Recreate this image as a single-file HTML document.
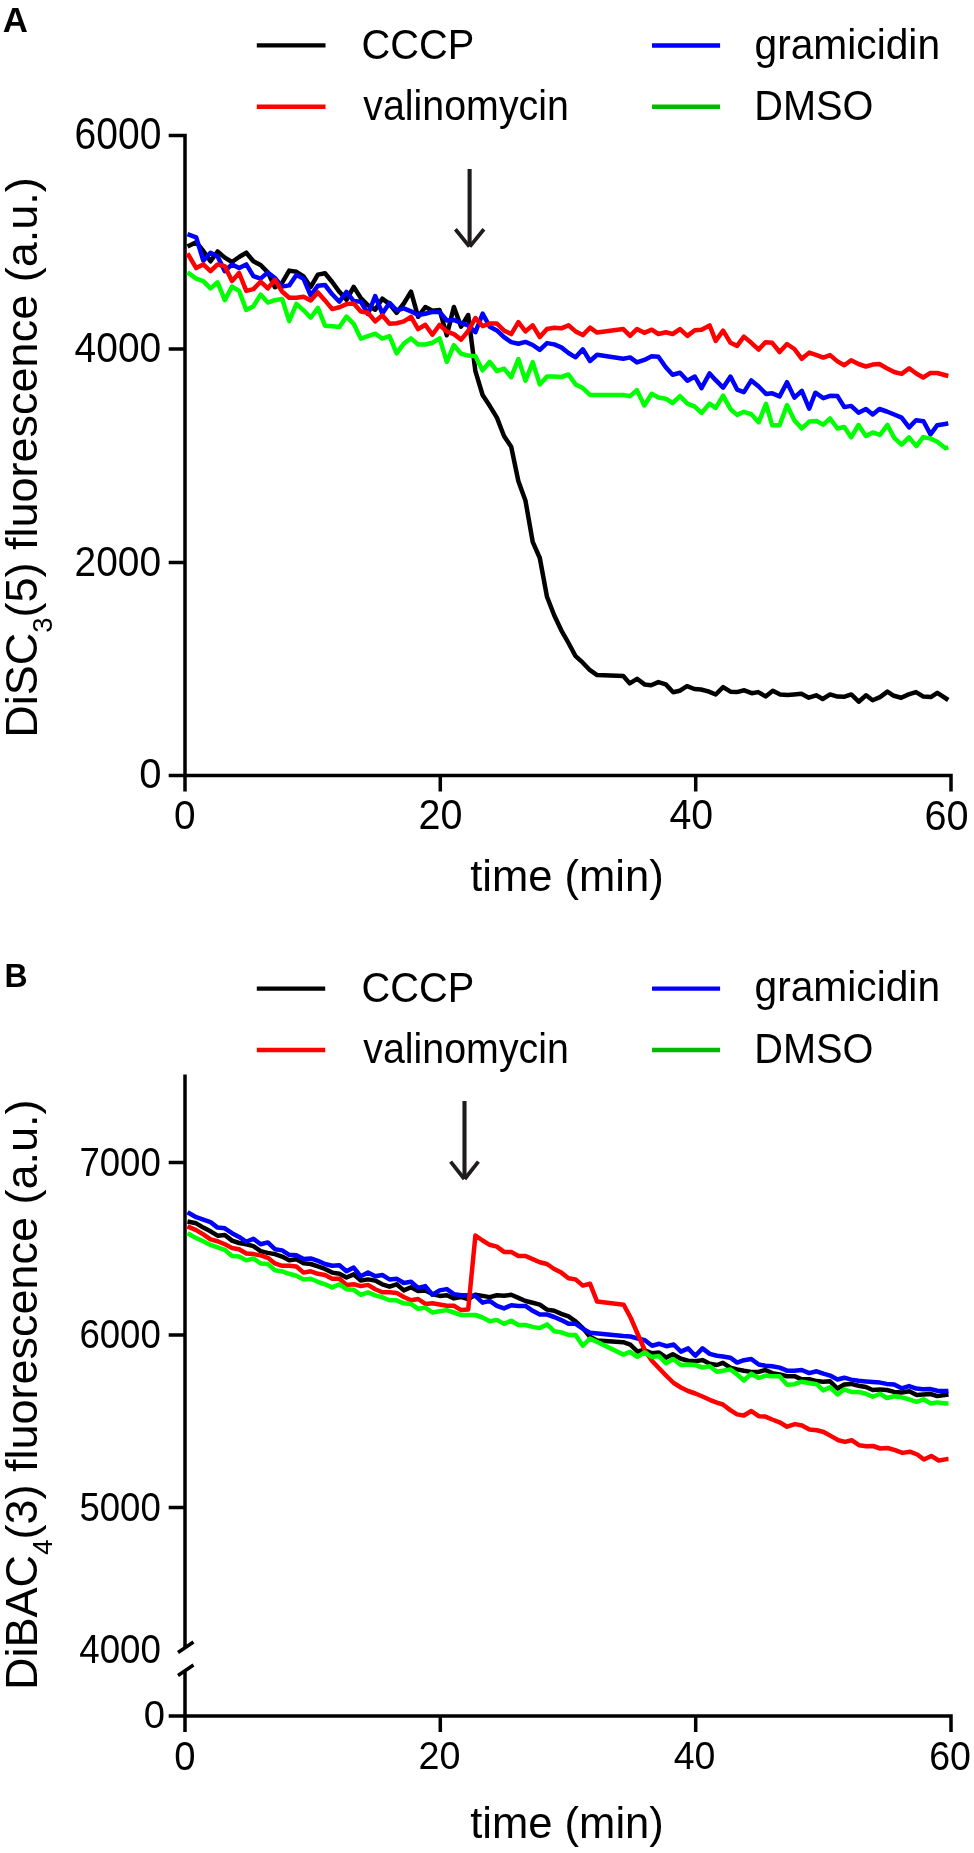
<!DOCTYPE html>
<html><head><meta charset="utf-8">
<style>
html,body{margin:0;padding:0;background:#fff;overflow:hidden;}
svg{display:block;will-change:transform;}
text{font-family:"Liberation Sans",sans-serif;fill:#000;}
</style></head>
<body>
<svg width="974" height="1853" viewBox="0 0 974 1853">

<text transform="matrix(0.9957 0 0 0.9792 2.80 31.60)" font-size="35" font-weight="bold">A</text>
<text transform="matrix(0.9254 0 0 0.975 361.55 59.20)" font-size="43" font-weight="normal">CCCP</text>
<text transform="matrix(0.9153 0 0 0.975 363.30 120.10)" font-size="43" font-weight="normal">valinomycin</text>
<text transform="matrix(0.9471 0 0 0.975 754.51 58.80)" font-size="43" font-weight="normal">gramicidin</text>
<text transform="matrix(0.9236 0 0 0.975 754.31 120.00)" font-size="43" font-weight="normal">DMSO</text>
<text transform="matrix(0.9076 0 0 1.0172 74.58 149.10)" font-size="43" font-weight="normal">6000</text>
<text transform="matrix(0.9054 0 0 1.0069 74.59 362.20)" font-size="43" font-weight="normal">4000</text>
<text transform="matrix(0.9043 0 0 0.9897 74.59 575.50)" font-size="43" font-weight="normal">2000</text>
<text transform="matrix(0.93 0 0 0.9931 139.34 788.40)" font-size="43" font-weight="normal">0</text>
<text transform="matrix(0.9 0 0 0.9483 174.00 829.40)" font-size="43" font-weight="normal">0</text>
<text transform="matrix(0.9182 0 0 0.9828 418.46 829.10)" font-size="43" font-weight="normal">20</text>
<text transform="matrix(0.9133 0 0 0.9828 669.39 829.10)" font-size="43" font-weight="normal">40</text>
<text transform="matrix(0.9227 0 0 0.9931 924.55 829.50)" font-size="43" font-weight="normal">60</text>
<text transform="matrix(0.9901 0 0 1.0268 470.21 890.86)" font-size="44" font-weight="normal">time (min)</text>
<text transform="matrix(0.9254 0 0 0.975 361.55 1001.70)" font-size="43" font-weight="normal">CCCP</text>
<text transform="matrix(0.9153 0 0 0.975 363.30 1062.60)" font-size="43" font-weight="normal">valinomycin</text>
<text transform="matrix(0.9471 0 0 0.975 754.51 1001.30)" font-size="43" font-weight="normal">gramicidin</text>
<text transform="matrix(0.9236 0 0 0.975 754.31 1062.50)" font-size="43" font-weight="normal">DMSO</text>
<text transform="matrix(0.9136 0 0 0.9667 4.47 986.70)" font-size="35" font-weight="bold">B</text>
<text transform="matrix(0.892 0 0 0.9786 79.42 1175.50)" font-size="41" font-weight="normal">7000</text>
<text transform="matrix(0.892 0 0 0.975 79.42 1347.70)" font-size="41" font-weight="normal">6000</text>
<text transform="matrix(0.892 0 0 0.9786 79.42 1520.50)" font-size="41" font-weight="normal">5000</text>
<text transform="matrix(0.8955 0 0 0.9893 79.30 1662.50)" font-size="41" font-weight="normal">4000</text>
<text transform="matrix(0.9316 0 0 0.9607 143.64 1728.40)" font-size="41" font-weight="normal">0</text>
<text transform="matrix(0.9316 0 0 0.9714 174.24 1769.70)" font-size="41" font-weight="normal">0</text>
<text transform="matrix(0.919 0 0 0.9607 418.46 1769.40)" font-size="41" font-weight="normal">20</text>
<text transform="matrix(0.914 0 0 0.9643 673.69 1769.40)" font-size="41" font-weight="normal">40</text>
<text transform="matrix(0.9143 0 0 0.9714 929.17 1769.60)" font-size="41" font-weight="normal">60</text>
<text transform="matrix(0.9901 0 0 1.0171 470.21 1838.25)" font-size="44" font-weight="normal">time (min)</text>
<text transform="translate(37.3,737.8) rotate(-90)" font-size="45">DiSC<tspan font-size="27.5" dy="15">3</tspan><tspan dy="-15">(5) fluorescence (a.u.)</tspan></text>
<text transform="translate(37.3,1689.9) rotate(-90)" font-size="45">DiBAC<tspan font-size="27.5" dy="15">4</tspan><tspan dy="-15">(3) fluorescence (a.u.)</tspan></text>
<g stroke-width="4.4" fill="none" stroke-linecap="butt">
<path d="M256.8 45.4H325.5" stroke="#000"/>
<path d="M256.8 106.8H325.5" stroke="#f00"/>
<path d="M652 45.5H720.1" stroke="#00f"/>
<path d="M652 106.8H720.1" stroke="#00b900"/>
<path d="M256.8 988.6H325.2" stroke="#000"/>
<path d="M256.8 1050H325.2" stroke="#f00"/>
<path d="M652 988.6H720.1" stroke="#00f"/>
<path d="M652 1050H720.1" stroke="#00b900"/>
</g>
<g stroke="#000" stroke-width="3.5" fill="none" stroke-linecap="butt">
<path d="M168.7 135.5H185V775.5H951V791.5"/>
<path d="M168.7 349H185M168.7 562.4H185M168.7 775.5H185"/>
<path d="M185 775.5V791.5M440.3 775.5V791.5M695.7 775.5V791.5"/>
<path d="M185 1074.4V1647.5"/>
<path d="M185 1670V1716H951V1732"/>
<path d="M168.7 1162.4H185M168.7 1335H185M168.7 1507.4H185M168.7 1716H185"/>
<path d="M185 1716V1732M440.3 1716V1732M695.7 1716V1732"/>
<path d="M178 1652.5L193.5 1642M178 1675.5L193.5 1665"/>
</g>
<g stroke="#1f1c1d" fill="none" stroke-linecap="butt">
<path stroke-width="4.1" d="M469.6 169V244"/>
<path stroke-width="3.8" d="M455.4 229.3L469.4 246.6M483.9 229.3L469.8 246.6"/>
<path stroke-width="4.1" d="M464.5 1101V1177"/>
<path stroke-width="3.8" d="M450.6 1161.6L464.3 1179M478.4 1161.6L464.7 1179"/>
</g>

<g fill="none" stroke-width="4.5" stroke-linejoin="round" stroke-linecap="butt">
<path stroke="#000" d="M187.5 246.6 196.2 242.2 203.3 251.0 210.5 261.3 217.6 251.5 224.8 257.6 232.0 262.0 239.1 257.0 246.3 252.7 253.4 261.3 260.6 265.0 267.8 272.4 274.9 287.2 282.1 282.9 289.2 270.6 296.4 271.8 303.6 276.4 310.7 286.9 317.9 274.6 325.0 273.3 332.2 282.0 339.4 291.8 346.5 299.8 353.7 286.9 360.8 298.0 368.0 305.4 375.2 309.7 382.3 298.6 389.5 304.1 396.6 312.8 403.8 303.5 411.0 291.6 418.1 316.8 425.3 307.0 432.4 310.7 439.6 310.0 446.8 335.3 453.9 307.0 461.1 326.7 468.2 315.0 475.4 371.2 482.6 395.0 489.7 405.8 496.9 417.6 504.0 436.0 511.2 446.8 518.4 481.3 525.5 500.8 532.7 541.8 539.8 558.0 547.0 596.8 554.2 615.2 561.3 630.3 568.5 643.0 575.6 656.2 582.8 662.7 590.0 670.2 597.1 675.1 623.3 676.0 629.7 683.4 637.1 678.8 644.5 684.4 651.0 685.3 658.4 682.1 665.8 684.4 673.2 692.3 679.6 690.8 687.0 686.2 694.4 689.0 700.9 689.5 708.3 691.4 715.7 694.5 723.1 687.1 730.5 691.7 736.9 692.1 744.3 690.3 751.7 693.2 758.2 692.1 765.6 696.4 772.8 690.7 780.2 694.4 787.6 694.9 794.0 694.4 801.4 693.8 808.8 697.7 816.2 695.3 822.7 699.0 830.1 694.4 837.5 696.6 843.9 696.8 851.3 694.4 858.7 701.7 866.1 695.3 872.6 700.3 880.0 697.1 887.4 691.6 893.8 695.8 901.2 697.7 908.6 694.4 916.0 692.1 923.4 696.6 930.8 697.1 937.3 692.9 948.3 700.0"/>
<path stroke="#00f" d="M187.5 234.2 196.2 237.3 203.3 260.7 210.5 252.7 217.6 256.4 224.8 271.2 232.0 264.4 239.1 268.1 246.3 264.4 253.4 276.1 260.6 278.6 267.8 272.4 274.9 278.0 282.1 286.6 289.2 285.4 296.4 274.9 303.6 278.9 310.7 295.5 317.9 285.7 325.0 285.0 332.2 294.3 339.4 301.7 346.5 291.8 353.7 301.1 360.8 301.7 368.0 314.0 375.2 296.1 382.3 313.4 389.5 302.9 396.6 310.3 403.8 308.4 411.0 311.3 418.1 315.0 425.3 313.7 432.4 311.9 439.6 311.9 446.8 320.5 453.9 319.9 461.1 323.0 468.2 325.4 475.4 332.2 482.6 313.7 489.7 326.7 496.9 330.4 504.0 337.1 511.2 342.1 518.4 343.7 525.5 341.9 532.7 345.0 539.8 349.9 547.0 343.1 554.2 344.4 561.3 347.4 568.5 353.0 575.6 357.3 582.8 349.3 590.0 361.0 597.1 354.8 623.3 358.7 630.1 357.4 636.9 362.4 644.3 359.9 651.7 356.2 658.4 356.8 665.8 367.3 672.6 374.7 680.0 372.8 687.4 380.8 694.8 376.5 701.5 388.2 709.6 373.4 715.7 380.2 723.1 387.7 730.5 376.6 737.1 389.6 743.9 392.1 751.3 380.4 758.7 386.5 766.0 393.9 772.2 393.3 779.6 396.4 787.0 382.2 794.4 397.6 801.8 390.8 809.2 408.7 815.3 392.7 823.3 398.2 830.1 395.8 837.5 396.1 844.3 407.1 851.1 405.9 858.5 412.7 865.9 409.0 872.7 414.5 879.4 409.0 886.8 411.5 894.2 414.5 901.6 417.6 909.1 427.4 916.0 420.3 923.5 421.2 930.5 434.4 937.3 425.2 946.5 423.7 948.3 423.4"/>
<path stroke="#f00" d="M187.5 253.3 196.2 268.1 203.3 264.4 210.5 271.2 217.6 264.4 224.8 266.3 232.0 281.1 239.1 273.0 246.3 290.9 253.4 289.1 260.6 281.7 267.8 288.4 274.9 279.8 282.1 291.5 289.2 297.7 296.4 297.7 303.6 296.7 310.7 300.4 317.9 292.4 325.0 300.4 332.2 309.1 339.4 307.2 346.5 304.1 353.7 303.5 360.8 311.5 368.0 312.8 375.2 321.4 382.3 315.2 389.5 323.8 396.6 323.2 403.8 321.4 411.0 316.8 418.1 329.1 425.3 324.8 432.4 334.7 439.6 324.8 446.8 331.6 453.9 334.1 461.1 339.6 468.2 331.0 475.4 318.0 482.6 326.1 489.7 323.6 496.9 323.6 504.0 330.4 511.2 334.1 518.4 322.2 525.5 331.4 532.7 325.3 539.8 337.0 547.0 329.0 554.2 327.7 561.3 328.3 568.5 325.3 575.6 331.4 582.8 335.1 590.0 327.7 597.1 332.6 623.3 329.1 630.1 335.9 636.9 329.1 644.3 332.8 651.7 329.7 658.4 334.0 665.8 332.2 672.6 334.0 680.0 329.1 687.4 335.9 694.8 330.3 701.5 329.7 709.6 325.4 715.7 340.8 723.1 330.7 730.5 342.8 737.1 345.9 743.9 336.6 751.3 342.8 758.7 349.6 765.4 342.2 772.2 342.8 779.6 352.0 787.0 344.0 794.4 349.0 801.8 358.8 809.2 352.6 816.6 355.1 823.3 357.6 830.1 355.1 837.5 361.4 844.3 365.3 851.1 360.3 858.5 364.0 865.9 366.5 872.7 364.6 879.4 364.0 886.8 368.3 894.2 372.0 901.6 373.9 909.2 368.2 916.3 373.5 923.1 377.5 930.5 372.9 937.3 373.0 944.5 375.0 948.3 376.0"/>
<path stroke="#0f0" d="M187.5 272.4 196.2 278.6 203.3 281.1 210.5 288.4 217.6 282.3 224.8 300.2 232.0 286.6 239.1 290.9 246.3 310.0 253.4 306.3 260.6 294.6 267.8 302.6 274.9 300.2 282.1 298.9 289.2 321.1 296.4 303.8 303.6 310.3 310.7 317.7 317.9 307.8 325.0 325.7 332.2 326.3 339.4 326.9 346.5 316.5 353.7 323.8 360.8 338.6 368.0 336.2 375.2 333.7 382.3 338.6 389.5 336.2 396.6 353.4 403.8 343.6 411.0 338.4 418.1 344.5 425.3 344.5 432.4 342.7 439.6 338.4 446.8 361.8 453.9 345.2 461.1 353.8 468.2 355.6 475.4 356.2 482.6 370.4 489.7 361.8 496.9 371.0 504.0 368.6 511.2 377.2 518.4 359.1 525.5 380.7 532.7 362.2 539.8 384.4 547.0 376.4 554.2 376.4 561.3 377.0 568.5 374.5 575.6 384.4 582.8 388.1 590.0 394.9 597.1 394.9 623.3 395.0 630.1 396.2 636.9 390.1 644.3 405.5 651.7 393.8 658.4 397.5 665.8 398.7 672.6 403.0 680.0 396.2 687.4 403.6 694.8 406.7 701.5 412.9 709.6 403.6 715.7 407.9 723.1 395.7 730.5 409.2 737.1 414.9 743.9 411.8 751.3 414.2 758.7 422.3 766.0 403.8 772.2 425.3 779.6 425.3 787.0 405.0 794.4 420.4 801.8 428.4 809.2 421.6 816.6 421.0 823.3 424.7 830.1 418.5 837.5 428.5 844.3 426.9 851.1 437.3 858.5 425.0 865.9 436.1 872.7 432.4 880.0 434.9 887.4 425.0 894.2 437.9 901.6 444.7 909.0 437.4 916.4 446.1 923.2 437.1 930.6 438.6 937.3 441.7 945.5 448.2 948.3 447.4"/>
<path stroke="#000" d="M187.5 1221.5 196.2 1223.3 203.3 1227.6 210.5 1231.3 217.6 1235.7 224.8 1235.0 232.0 1240.6 239.1 1243.0 246.3 1244.3 253.4 1246.1 260.6 1251.1 267.8 1252.9 274.9 1254.1 282.1 1256.6 289.2 1260.3 296.4 1259.3 303.6 1263.3 310.7 1264.0 317.9 1266.4 325.0 1268.9 332.2 1272.6 339.4 1273.8 346.5 1277.5 353.7 1274.4 360.8 1280.6 368.0 1279.4 375.2 1280.6 382.3 1284.3 389.5 1286.7 396.6 1284.3 403.8 1290.4 411.0 1287.3 418.1 1291.0 425.3 1290.4 432.4 1294.1 439.6 1295.9 446.8 1295.3 453.9 1298.4 461.1 1297.1 468.2 1299.0 475.4 1294.7 482.6 1295.9 489.7 1297.1 496.9 1295.3 504.0 1295.7 511.2 1294.8 518.4 1297.9 525.5 1301.0 532.7 1302.8 539.8 1304.7 547.0 1309.6 554.2 1310.8 561.3 1313.9 568.5 1316.4 575.6 1321.3 582.8 1328.1 590.0 1336.8 597.1 1340.5 623.3 1342.2 630.3 1344.6 637.5 1351.5 644.0 1350.0 652.3 1353.3 659.0 1352.5 666.3 1357.6 672.8 1354.3 680.9 1358.8 688.1 1360.7 695.3 1361.3 702.5 1360.1 709.7 1363.8 716.9 1365.0 722.9 1362.8 730.3 1367.6 737.1 1369.4 743.9 1370.7 751.3 1371.9 758.7 1371.9 765.4 1370.0 772.2 1373.1 779.6 1374.4 787.0 1376.2 794.4 1376.2 801.8 1379.3 809.2 1379.3 816.6 1381.1 823.3 1381.7 830.1 1381.3 837.5 1388.5 844.3 1384.5 851.1 1383.9 858.5 1385.7 865.9 1387.0 872.7 1390.0 880.0 1389.4 886.8 1390.0 894.2 1391.9 901.6 1392.5 909.3 1391.2 916.7 1394.9 923.2 1394.4 930.5 1394.0 937.3 1396.1 948.5 1394.6"/>
<path stroke="#00f" d="M187.5 1212.2 196.2 1217.2 203.3 1219.6 210.5 1222.1 217.6 1227.6 224.8 1228.3 232.0 1233.2 239.1 1236.9 246.3 1241.8 253.4 1238.7 260.6 1244.3 267.8 1242.4 274.9 1249.2 282.1 1250.4 289.2 1254.8 296.4 1255.3 303.6 1259.0 310.7 1258.4 317.9 1260.9 325.0 1264.0 332.2 1265.8 339.4 1265.2 346.5 1271.3 353.7 1267.6 360.8 1276.3 368.0 1272.6 375.2 1276.3 382.3 1275.0 389.5 1279.4 396.6 1278.7 403.8 1283.0 411.0 1281.7 418.1 1287.9 425.3 1286.1 432.4 1294.7 439.6 1290.4 446.8 1289.1 453.9 1294.1 461.1 1295.3 468.2 1295.3 475.4 1295.9 482.6 1302.7 489.7 1300.8 496.9 1305.8 504.0 1308.4 511.2 1305.3 518.4 1305.9 525.5 1305.9 532.7 1310.8 539.8 1314.5 547.0 1314.5 554.2 1317.0 561.3 1320.1 568.5 1323.8 575.6 1323.8 582.8 1328.7 590.0 1332.7 623.3 1336.0 630.5 1336.5 637.7 1338.5 644.9 1340.2 652.1 1345.7 659.3 1343.8 666.5 1346.2 673.7 1344.5 680.9 1351.6 688.1 1348.4 695.3 1355.8 702.5 1348.4 709.7 1353.9 716.9 1355.8 722.9 1356.5 730.3 1357.7 737.1 1362.6 743.9 1360.2 751.3 1359.0 758.7 1364.5 765.4 1365.7 772.2 1366.3 779.6 1367.6 787.0 1370.7 794.4 1370.7 801.8 1370.0 809.2 1373.1 816.6 1371.3 823.3 1373.7 830.1 1375.6 837.5 1379.5 844.3 1377.7 851.1 1379.6 858.5 1380.8 865.9 1381.4 872.7 1382.0 880.0 1382.6 886.8 1383.9 894.2 1384.5 901.6 1388.3 909.0 1386.1 916.4 1388.6 923.2 1389.2 930.6 1389.1 937.3 1390.8 946.6 1391.1 948.5 1390.9"/>
<path stroke="#f00" d="M187.5 1226.4 196.2 1230.1 203.3 1234.4 210.5 1239.4 217.6 1241.2 224.8 1244.3 232.0 1248.0 239.1 1249.2 246.3 1253.5 253.4 1254.1 260.6 1255.4 267.8 1257.8 274.9 1263.4 282.1 1265.8 289.2 1265.8 296.4 1266.5 303.6 1272.6 310.7 1271.3 317.9 1273.8 325.0 1275.0 332.2 1278.7 339.4 1278.7 346.5 1284.9 353.7 1284.3 360.8 1286.1 368.0 1284.9 375.2 1289.2 382.3 1292.3 389.5 1292.3 396.6 1292.9 403.8 1297.0 411.0 1300.2 418.1 1299.0 425.3 1303.9 432.4 1303.3 439.6 1304.5 446.8 1305.8 453.9 1305.8 461.1 1310.1 468.2 1309.5 475.4 1235.5 482.6 1240.5 489.7 1244.8 496.9 1246.6 504.0 1251.9 511.2 1251.9 518.4 1256.0 525.5 1256.0 532.7 1259.1 539.8 1262.2 547.0 1264.0 554.2 1269.0 561.3 1272.6 568.5 1278.2 575.6 1279.4 582.8 1285.6 590.0 1283.7 597.1 1301.6 623.7 1304.7 630.8 1318.0 637.7 1334.0 644.9 1350.5 652.1 1361.0 659.3 1368.5 666.5 1376.0 673.7 1383.0 680.9 1387.5 688.1 1391.0 695.3 1393.5 702.5 1396.5 709.7 1399.8 716.9 1402.7 722.9 1404.5 730.3 1410.1 737.1 1414.4 743.9 1415.5 751.3 1411.0 758.7 1416.2 765.4 1416.6 772.2 1419.5 779.6 1422.3 787.0 1426.7 795.0 1424.1 802.0 1425.5 809.5 1429.5 816.9 1430.2 823.7 1432.0 831.1 1436.1 838.5 1440.2 845.0 1441.9 851.6 1440.2 859.0 1445.2 866.4 1446.3 873.0 1446.0 880.3 1448.5 887.7 1448.0 895.1 1450.1 902.5 1452.9 909.9 1451.7 917.3 1454.5 923.9 1459.5 931.3 1455.9 938.7 1460.5 946.9 1459.1 948.5 1459.0"/>
<path stroke="#0f0" d="M187.5 1233.2 196.2 1238.1 203.3 1241.2 210.5 1244.9 217.6 1247.4 224.8 1249.8 232.0 1256.0 239.1 1256.6 246.3 1260.3 253.4 1258.4 260.6 1263.4 267.8 1264.0 274.9 1270.2 282.1 1271.4 289.2 1273.8 296.4 1275.7 303.6 1279.4 310.7 1278.7 317.9 1281.8 325.0 1284.3 332.2 1287.4 339.4 1284.3 346.5 1289.2 353.7 1289.8 360.8 1294.8 368.0 1292.3 375.2 1295.4 382.3 1297.2 389.5 1300.3 396.6 1300.3 403.8 1303.3 411.0 1303.9 418.1 1308.8 425.3 1307.6 432.4 1312.5 439.6 1311.3 446.8 1310.1 453.9 1312.5 461.1 1315.0 468.2 1315.0 475.4 1315.0 482.6 1317.5 489.7 1321.2 496.9 1319.9 504.0 1323.9 511.2 1320.7 518.4 1325.0 525.5 1325.0 532.7 1326.9 539.8 1328.1 547.0 1324.4 554.2 1331.2 561.3 1332.4 568.5 1334.9 575.6 1334.9 582.8 1345.7 590.0 1338.5 623.5 1354.6 630.1 1351.8 637.3 1356.9 644.5 1352.5 651.7 1356.9 658.9 1356.1 666.1 1363.3 673.2 1359.0 680.9 1365.0 688.1 1364.4 695.3 1365.0 702.5 1367.5 709.7 1366.2 716.9 1371.8 722.9 1370.7 730.3 1369.4 737.1 1374.4 743.9 1380.5 751.3 1373.7 758.7 1378.0 765.4 1375.6 772.2 1376.2 779.6 1376.2 787.0 1384.8 794.4 1384.2 801.8 1381.7 809.2 1383.0 816.6 1384.2 823.3 1390.4 830.1 1387.3 837.5 1394.5 844.3 1389.4 851.1 1391.9 858.5 1391.9 865.9 1393.7 872.7 1396.8 880.0 1393.7 886.8 1398.0 894.2 1396.2 901.6 1397.4 909.0 1399.3 916.4 1401.8 923.5 1399.3 930.8 1403.5 937.3 1402.4 946.6 1403.4 948.5 1403.2"/>
</g>
</svg>
</body></html>
